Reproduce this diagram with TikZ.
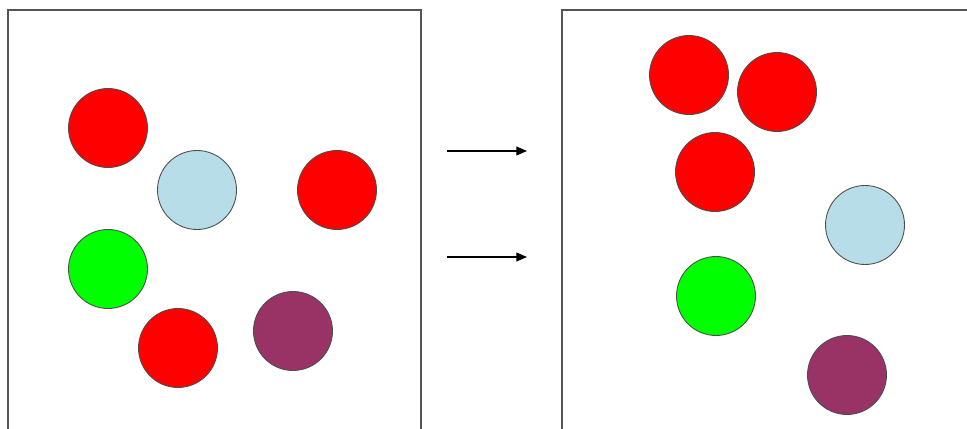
\documentclass[tikz,border=0pt]{standalone}
\usepackage{tikz}
\usetikzlibrary{arrows.meta,positioning}

\definecolor{ballred}{HTML}{FF0000}
\definecolor{ballblue}{HTML}{B7DEE8}
\definecolor{ballgreen}{HTML}{00FF00}
\definecolor{ballpurple}{HTML}{993366}
\definecolor{framegray}{HTML}{555555}

\begin{document}
\begin{tikzpicture}[
  x=0.02cm,y=-0.02cm,
  ball/.style={circle,draw=black!70,line width=0.5pt,minimum size=1.58cm,inner sep=0pt},
  frame/.style={draw=framegray,line width=0.7pt},
  arr/.style={-{Triangle[length=6pt,width=5pt]},line width=0.6pt}
]
\useasboundingbox (0,0) rectangle (967,429);
\clip (0,0) rectangle (967,429);

% ---- before (left) ----
\draw[frame] (8,10) rectangle (421,460);
\node[ball,fill=ballred]    (r1) at (108,128) {};
\node[ball,fill=ballblue]   (b1) at (197,190) {};
\node[ball,fill=ballred]    (r2) at (337,190) {};
\node[ball,fill=ballgreen]  (g1) at (108,269) {};
\node[ball,fill=ballred]    (r3) at (178,348) {};
\node[ball,fill=ballpurple] (p1) at (293,331) {};

% ---- arrows ----
\coordinate (a1s) at (447,151);
\coordinate (a1e) at (527,151);
\coordinate (a2s) at (447,257);
\coordinate (a2e) at (527,257);
\draw[arr] (a1s) -- (a1e);
\draw[arr] (a2s) -- (a2e);

% ---- after (right) ----
\draw[frame] (562,10) rectangle (1000,460);
\node[ball,fill=ballred]    (r4) at (689,75)  {};
\node[ball,fill=ballred]    (r5) at (777,92)  {};
\node[ball,fill=ballred]    (r6) at (715,172) {};
\node[ball,fill=ballblue]   (b2) at (865,225) {};
\node[ball,fill=ballgreen]  (g2) at (716,296) {};
\node[ball,fill=ballpurple] (p2) at (847,375) {};
\end{tikzpicture}
\end{document}
